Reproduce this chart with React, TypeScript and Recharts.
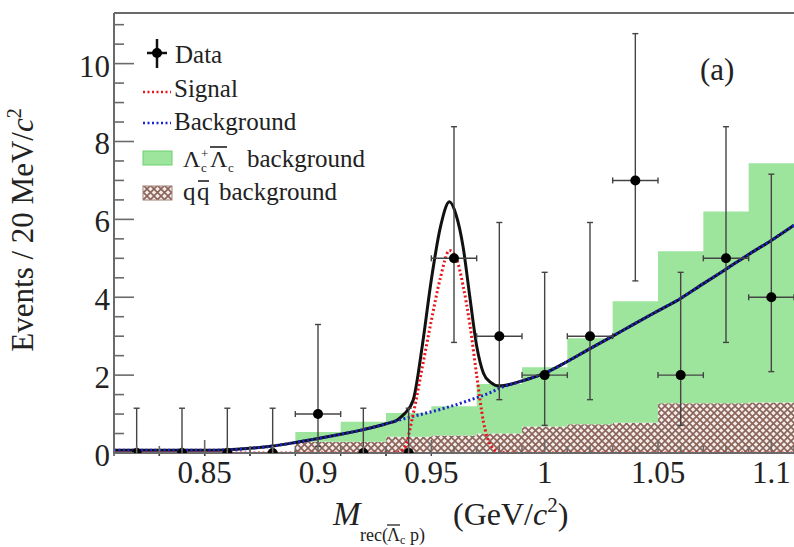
import React from 'react';
import { ComposedChart, Area, Line, Scatter, XAxis, YAxis, ErrorBar, ReferenceLine } from 'recharts';

// Histogram bin edges (GeV/c^2) and stacked background contents
const binEdges = [0.81, 0.83, 0.85, 0.87, 0.89, 0.91, 0.93, 0.95, 0.97, 0.99, 1.01, 1.03, 1.05, 1.07, 1.09, 1.11];
const qqBkg = [0, 0, 0, 0, 0.29, 0.29, 0.42, 0.45, 0.5, 0.68, 0.74, 0.78, 1.28, 1.28, 1.3];
const lambdaBkg = [0, 0, 0, 0, 0.25, 0.51, 0.61, 0.75, 1.27, 1.52, 2.21, 3.12, 3.9, 4.92, 6.14];

// Data points
const dataX = [0.82, 0.84, 0.86, 0.88, 0.9, 0.92, 0.94, 0.96, 0.98, 1.0, 1.02, 1.04, 1.06, 1.08, 1.1];
const dataY = [0, 0, 0, 0, 1, 0, 0, 5, 3, 2, 3, 7, 2, 5, 4];
const errLow = [0, 0, 0, 0, 0.83, 0, 0, 2.16, 1.63, 1.29, 1.63, 2.58, 1.29, 2.16, 1.91];
const errHigh = [1.15, 1.15, 1.15, 1.15, 2.3, 1.15, 1.15, 3.38, 2.92, 2.64, 2.92, 3.77, 2.64, 3.38, 3.16];
const binHalfWidth = 0.01;

// Fit curves
const curveX = [0.81, 0.83, 0.85, 0.86, 0.87, 0.88, 0.89, 0.9, 0.91, 0.92, 0.93, 0.935, 0.938, 0.942, 0.946, 0.95, 0.954, 0.958, 0.961, 0.964, 0.967, 0.97, 0.973, 0.976, 0.98, 0.99, 1.0, 1.01, 1.02, 1.03, 1.04, 1.05, 1.06, 1.07, 1.08, 1.09, 1.1, 1.11];
const bkgY = [0.07, 0.07, 0.07, 0.08, 0.12, 0.18, 0.27, 0.37, 0.48, 0.6, 0.75, 0.83, 0.88, 0.94, 1.0, 1.06, 1.12, 1.19, 1.24, 1.3, 1.36, 1.42, 1.48, 1.55, 1.66, 1.85, 2.05, 2.35, 2.68, 3.0, 3.33, 3.65, 3.97, 4.35, 4.72, 5.1, 5.46, 5.85];
const sigY = [0, 0, 0, 0, 0, 0, 0, 0, 0, 0, 0, 0.02, 0.12, 1.0, 2.2, 3.4, 4.5, 5.2, 5.0, 4.3, 3.3, 2.0, 0.8, 0.22, 0.02, 0, 0, 0, 0, 0, 0, 0, 0, 0, 0, 0, 0, 0];
const totY = [0.07, 0.07, 0.07, 0.08, 0.12, 0.18, 0.27, 0.37, 0.48, 0.6, 0.75, 0.85, 1.0, 1.36, 2.75, 4.45, 5.8, 6.45, 6.1, 5.3, 4.0, 2.75, 2.05, 1.82, 1.72, 1.85, 2.05, 2.35, 2.68, 3.0, 3.33, 3.65, 3.97, 4.35, 4.72, 5.1, 5.46, 5.85];

const xTicks = [0.81, 0.82, 0.83, 0.84, 0.85, 0.86, 0.87, 0.88, 0.89, 0.9, 0.91, 0.92, 0.93, 0.94, 0.95, 0.96, 0.97, 0.98, 0.99, 1.0, 1.01, 1.02, 1.03, 1.04, 1.05, 1.06, 1.07, 1.08, 1.09, 1.1, 1.11];
const xMajor = [0.85, 0.9, 0.95, 1.0, 1.05, 1.1];
const xMajorLabels = ['0.85', '0.9', '0.95', '1', '1.05', '1.1'];
const yTicks = [0, 0.5, 1, 1.5, 2, 2.5, 3, 3.5, 4, 4.5, 5, 5.5, 6, 6.5, 7, 7.5, 8, 8.5, 9, 9.5, 10, 10.5, 11];
const yMajor = [0, 2, 4, 6, 8, 10];
const yMajorLabels = ['0', '2', '4', '6', '8', '10'];

const FONT = '"Liberation Serif", "DejaVu Serif", serif';
const AXIS = '#6a6a6a';
const PLOT_L = 114;
const PLOT_B = 453;

// build the table Recharts needs
const rowMap = new Map<string, any>();
const binIndex = (x: number) => {
  let i = 0;
  for (let k = 0; k < binEdges.length - 1; k++) if (x >= binEdges[k] - 1e-9) i = k;
  return i;
};
[...binEdges, ...curveX].forEach((x) => {
  const key = x.toFixed(4);
  if (!rowMap.has(key)) {
    const i = binIndex(x);
    rowMap.set(key, { x, qq: qqBkg[i], lam: lambdaBkg[i] });
  }
});
curveX.forEach((x, i) => {
  const r = rowMap.get(x.toFixed(4));
  r.bkg = bkgY[i];
  r.sig = sigY[i];
  r.tot = totY[i];
});
const table = Array.from(rowMap.values()).sort((a, b) => a.x - b.x);
const points = dataX.map((x, i) => ({ x, y: dataY[i], ey: [errLow[i], errHigh[i]], ex: binHalfWidth }));

const near = (a: number, b: number) => Math.abs(a - b) < 1e-6;

const YTick = (props: any) => {
  const { y, payload } = props;
  const v = payload.value;
  const mi = yMajor.findIndex((m) => near(m, v));
  const major = mi >= 0;
  return (
    <g>
      <line x1={PLOT_L} x2={PLOT_L + (major ? 20 : 10)} y1={y} y2={y} stroke={AXIS} strokeWidth={1.6} />
      {major && (
        <text x={110} y={y + 13} textAnchor="end" fontSize={31} fontFamily={FONT} fill="#222">
          {yMajorLabels[mi]}
        </text>
      )}
    </g>
  );
};

const XTick = (props: any) => {
  const { x, payload } = props;
  const v = payload.value;
  const mi = xMajor.findIndex((m) => near(m, v));
  const major = mi >= 0;
  return (
    <g>
      <line x1={x} x2={x} y1={PLOT_B} y2={PLOT_B - (major ? 13 : 7)} stroke={AXIS} strokeWidth={1.6} />
      {major && (
        <text x={x} y={483} textAnchor="middle" fontSize={31} fontFamily={FONT} fill="#222">
          {xMajorLabels[mi]}
        </text>
      )}
    </g>
  );
};

const Dot = (props: any) => <circle cx={props.cx} cy={props.cy} r={5} fill="#000" />;

export default function App() {
  return (
    <div style={{ position: 'absolute', left: 0, top: 0, width: 794, height: 547, background: '#fff' }}>
      <ComposedChart width={794} height={547} data={table} margin={{ top: 13, right: 0, bottom: 34, left: 0 }}>
        <defs>
          <pattern id="qqHatch" width="7" height="7" patternUnits="userSpaceOnUse">
            <rect width="7" height="7" fill="#f4ecea" />
            <path d="M0,0 L7,7 M7,0 L0,7" stroke="#8a6458" strokeWidth="1.6" />
          </pattern>
        </defs>
        <XAxis
          dataKey="x"
          type="number"
          domain={[0.81, 1.11]}
          allowDataOverflow
          ticks={xTicks}
          interval={0}
          tick={<XTick />}
          tickLine={false}
          axisLine={{ stroke: AXIS, strokeWidth: 2 }}
          height={60}
        />
        <YAxis
          type="number"
          domain={[0, 11.3]}
          allowDataOverflow
          ticks={yTicks}
          interval={0}
          tick={<YTick />}
          tickLine={false}
          axisLine={{ stroke: AXIS, strokeWidth: 2 }}
          width={114}
        />
        <ReferenceLine y={11.3} stroke={AXIS} strokeWidth={2} />
        <Area
          type="stepAfter"
          dataKey="qq"
          stackId="h"
          stroke="none"
          fill="url(#qqHatch)"
          fillOpacity={1}
          isAnimationActive={false}
        />
        <Area
          type="stepAfter"
          dataKey="lam"
          stackId="h"
          stroke="none"
          fill="#9de59d"
          fillOpacity={1}
          isAnimationActive={false}
        />
        <Line type="monotone" dataKey="tot" stroke="#111" strokeWidth={3} dot={false} connectNulls isAnimationActive={false} />
        <Line type="monotone" dataKey="bkg" stroke="#1a24d0" strokeWidth={3} strokeDasharray="2 2.5" dot={false} connectNulls isAnimationActive={false} />
        <Line type="monotone" dataKey="sig" stroke="#e8141a" strokeWidth={3} strokeDasharray="2 2.5" dot={false} connectNulls isAnimationActive={false} />
        <Scatter data={points} dataKey="y" shape={<Dot />} isAnimationActive={false}>
          <ErrorBar dataKey="ey" direction="y" width={3} stroke="#444" strokeWidth={1.4} />
          <ErrorBar dataKey="ex" direction="x" width={3} stroke="#444" strokeWidth={1.4} />
        </Scatter>

        {/* Legend */}
        <g fontFamily={FONT} fill="#222">
          <line x1={157} x2={157} y1={39} y2={68} stroke="#111" strokeWidth={2.5} />
          <line x1={147} x2={167} y1={53} y2={53} stroke="#111" strokeWidth={2.5} />
          <circle cx={157} cy={53} r={5} fill="#000" />
          <text x={175} y={63} fontSize={25}>Data</text>

          <line x1={143} x2={171} y1={92} y2={92} stroke="#e8141a" strokeWidth={2.5} strokeDasharray="2 2.5" />
          <text x={174} y={97} fontSize={25}>Signal</text>

          <line x1={143} x2={171} y1={123} y2={123} stroke="#1a24d0" strokeWidth={2.5} strokeDasharray="2 2.5" />
          <text x={174} y={130} fontSize={25}>Background</text>

          <rect x={143} y={151} width={29} height={14} fill="#9de59d" stroke="#6fcf6f" strokeWidth={1} />
          <text x={183} y={167} fontSize={24}>Λ</text>
          <text x={201} y={158} fontSize={13}>+</text>
          <text x={201} y={172} fontSize={13}>c</text>
          <text x={210} y={167} fontSize={24}>Λ</text>
          <line x1={210} x2={227} y1={147} y2={147} stroke="#222" strokeWidth={1.6} />
          <text x={228} y={172} fontSize={13}>c</text>
          <text x={247} y={167} fontSize={25}>background</text>

          <rect x={143} y={186} width={29} height={14} fill="url(#qqHatch)" stroke="#a08078" strokeWidth={1} />
          <text x={183} y={200} fontSize={25}>q</text>
          <text x={197} y={200} fontSize={25}>q</text>
          <line x1={198} x2={209} y1={181} y2={181} stroke="#222" strokeWidth={1.6} />
          <text x={219} y={200} fontSize={25}>background</text>

          <text x={700} y={80} fontSize={31}>(a)</text>

          {/* x-axis title */}
          <text x={333} y={525} fontSize={33} fontStyle="italic">M</text>
          <text x={360} y={541} fontSize={18}>rec(</text>
          <text x={387} y={541} fontSize={18}>Λ</text>
          <line x1={387} x2={400} y1={525} y2={525} stroke="#222" strokeWidth={1.3} />
          <text x={400} y={544} fontSize={12}>c</text>
          <text x={410} y={541} fontSize={18}>p)</text>
          <text x={453} y={525} fontSize={32}>
            (GeV/<tspan fontStyle="italic">c</tspan>
            <tspan dy={-13} fontSize={21}>2</tspan>
            <tspan dy={13}>)</tspan>
          </text>

          {/* y-axis title */}
          <text transform="translate(33,230) rotate(-90)" textAnchor="middle" fontSize={31}>
            Events / 20 MeV/<tspan fontStyle="italic">c</tspan>
            <tspan dy={-12} fontSize={20}>2</tspan>
          </text>
        </g>
      </ComposedChart>
    </div>
  );
}
